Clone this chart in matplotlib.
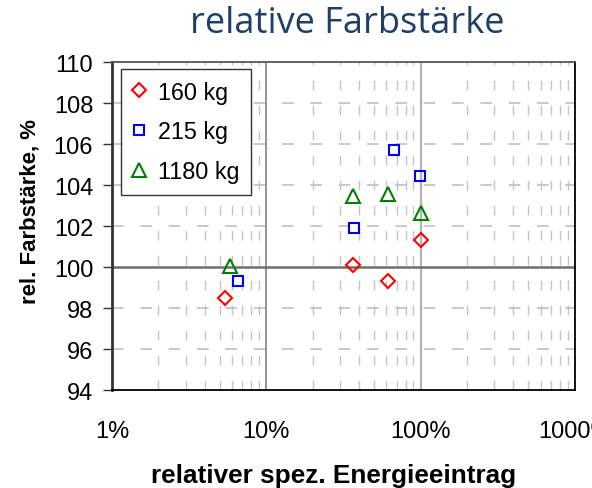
import matplotlib
matplotlib.use("Agg")
import matplotlib.pyplot as plt
from matplotlib.ticker import FixedLocator, NullLocator

# Relative specific energy input (%) and relative colour strength (%)
series_names = ["160 kg", "215 kg", "1180 kg"]
energy_160 = [5.4, 36.4, 62.0, 100.0]
strength_160 = [98.5, 100.1, 99.3, 101.3]
energy_215 = [6.6, 37.0, 67.0, 99.0]
strength_215 = [99.3, 101.9, 105.7, 104.45]
energy_1180 = [5.8, 36.4, 62.0, 100.0]
strength_1180 = [100.05, 103.45, 103.55, 102.65]

x_ticks = [1, 10, 100, 1000]
x_tick_labels = ["1%", "10%", "100%", "1000%"]
y_ticks = [94, 96, 98, 100, 102, 104, 106, 108, 110]

title = "relative Farbstärke"
x_label = "relativer spez. Energieeintrag"
y_label = "rel. Farbstärke, %"

plt.rcParams["font.family"] = ["Liberation Sans", "DejaVu Sans"]

fig = plt.figure(figsize=(5.92, 4.89), dpi=100)
ax = fig.add_axes([0.189, 0.2004, 0.782, 0.6706])

ax.set_xscale("log")
ax.set_xlim(1, 1000)
ax.set_ylim(94, 110)

# background grid: dashed minor verticals, dashed horizontals, solid decades
minor_x = [m * 10 ** d for d in range(0, 3) for m in range(2, 10)]
for xv in minor_x:
    ax.axvline(xv, color="#c4c4c4", lw=1.0, ls=(0, (7, 11)), zorder=0)
for yv in y_ticks[1:-1]:
    if yv == 100:
        continue
    ax.axhline(yv, color="#c0c0c0", lw=1.2, ls=(0, (7, 10)), zorder=0)
ax.axvline(10, color="#808080", lw=1.2, zorder=1)
ax.axvline(100, color="#b4b4b4", lw=1.6, zorder=1)
ax.axhline(100, color="#6e6e6e", lw=1.8, zorder=1)

ax.plot(energy_160, strength_160, ls="none", marker="D", ms=7.2,
        mfc="none", mec="#ff0000", mew=1.5, label=series_names[0], zorder=3)
ax.plot(energy_215, strength_215, ls="none", marker="s", ms=7.8,
        mfc="none", mec="#0000ff", mew=1.5, label=series_names[1], zorder=3)
ax.plot(energy_1180, strength_1180, ls="none", marker="^", ms=9.5,
        mfc="none", mec="#008000", mew=1.5, label=series_names[2], zorder=3)

ax.xaxis.set_major_locator(FixedLocator(x_ticks))
ax.xaxis.set_minor_locator(NullLocator())
ax.set_xticklabels(x_tick_labels)
ax.set_yticks(y_ticks)
ax.tick_params(axis="x", length=0, labelsize=17, pad=21.5)
ax.tick_params(axis="y", length=6.5, width=1, color="#333333", labelsize=17, pad=7)
for lab in ax.get_xticklabels():
    lab.set_clip_on(False)

for side in ["left", "bottom", "right", "top"]:
    ax.spines[side].set_linewidth(1.3)
ax.spines["left"].set_color("#333333")
ax.spines["left"].set_linewidth(2.0)
ax.spines["top"].set_color("#555555")
ax.spines["right"].set_color("#000000")
ax.spines["bottom"].set_color("#000000")

ax.set_xlabel(x_label, fontsize=18.8, fontweight="bold")
ax.xaxis.set_label_coords(0.478, -0.222)
ax.set_ylabel(y_label, fontsize=16, fontweight="bold")
ax.yaxis.set_label_coords(-0.177, 0.546)
ax.yaxis.label.set_va("center")
fig.text(0.586, 0.951, title, fontsize=26, color="#1f3f68",
         family=["Open Sans", "DejaVu Sans"], ha="center", va="center")

leg = ax.legend(loc="upper left", bbox_to_anchor=(0.019, 0.979), fontsize=16.8,
                frameon=True, fancybox=False, edgecolor="#333333",
                framealpha=1.0, borderpad=0.5, labelspacing=0.72,
                handlelength=0.6, handletextpad=0.5, borderaxespad=0.0)
leg.get_frame().set_linewidth(1.0)

fig.savefig("out.png", dpi=100)
